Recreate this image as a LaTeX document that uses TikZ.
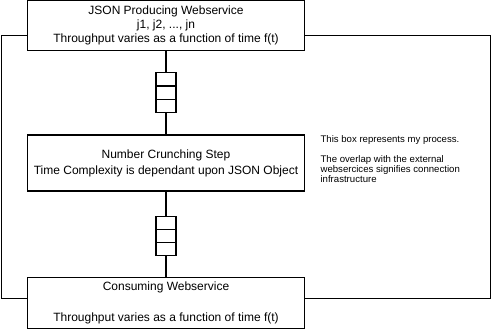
\documentclass[tikz,border=0pt]{standalone}
\usepackage{fontspec}
\setmainfont{Liberation Sans}
\begin{document}
\begin{tikzpicture}[x=0.75pt,y=-0.75pt, line width=0.9pt,
 box/.style={draw, fill=white, minimum width=207.75pt, align=center, inner sep=0pt, font=\fontsize{9}{10.5}\selectfont},
 cell/.style={draw, fill=white, minimum width=15pt, minimum height=9.75pt, inner sep=0pt},
 note/.style={align=left, inner sep=0pt, font=\fontsize{7.2}{7.5}\selectfont, anchor=north west}]
\useasboundingbox (0,0) rectangle (491,329);
\node[draw, minimum width=366.75pt, minimum height=197.25pt, anchor=north west, inner sep=0pt] (outer) at (1,35) {};
\node[box, minimum height=37.5pt] (src) at (166,25.5) {JSON Producing Webservice\\ j1, j2, ..., jn\\ Throughput varies as a function of time f(t)};
\node[box, minimum height=42pt, font=\fontsize{9}{12}\selectfont] (mid) at (166,163) {Number Crunching Step\\ Time Complexity is dependant upon JSON Object};
\node[box, minimum height=38.25pt, font=\fontsize{9}{11.6}\selectfont] (dst) at (166,302.75) {Consuming Webservice\\[11.6pt] Throughput varies as a function of time f(t)};
\node[cell] (q1a) at (166,79.35) {};
\node[cell] (q1b) at (166,92.65) {};
\node[cell] (q1c) at (166,105.65) {};
\node[cell] (q2a) at (166,222.65) {};
\node[cell] (q2b) at (166,235.8) {};
\node[cell] (q2c) at (166,248.65) {};
\draw (src.south) -- (q1a.north);
\draw (q1c.south) -- (mid.north);
\draw (mid.south) -- (q2a.north);
\draw (q2c.south) -- (dst.north);
\node[note] (txt) at (320,134.5) {This box represents my process.\\[7.5pt] The overlap with the external\\ websercices signifies connection\\ infrastructure};
\end{tikzpicture}
\end{document}
